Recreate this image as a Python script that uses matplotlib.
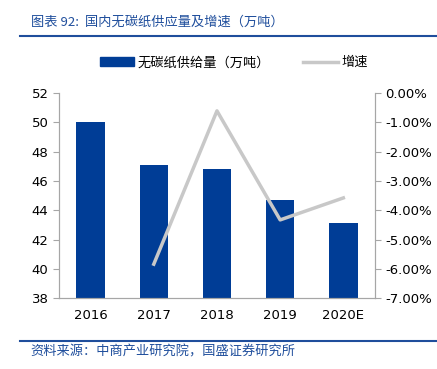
import matplotlib.pyplot as plt
from matplotlib.lines import Line2D
from matplotlib.patches import Patch

plt.rcParams["font.family"] = ["Noto Sans CJK SC", "DejaVu Sans"]

years = ["2016", "2017", "2018", "2019", "2020E"]
supply = [50.0, 47.1, 46.8, 44.7, 43.1]
growth_years = ["2017", "2018", "2019", "2020E"]
growth = [-5.84, -0.61, -4.33, -3.58]

BAR = "#003D96"
LINE = "#C8C8C8"
TITLE = "#1F4E9C"
AXIS = "#A6A6A6"

fig = plt.figure(figsize=(4.37, 3.69), dpi=100)
ax = fig.add_axes([0.135, 0.192, 0.723, 0.556])
x = list(range(len(years)))
ax.bar(x, supply, width=0.45, color=BAR, zorder=2)
ax.set_ylim(38, 52)
ax.set_yticks(range(38, 53, 2))
ax.set_xlim(-0.5, len(years) - 0.5)
ax.set_xticks(x)
ax.set_xticklabels(years)

ax2 = ax.twinx()
gx = [years.index(y) for y in growth_years]
ax2.plot(gx, growth, color=LINE, linewidth=2.5, zorder=3)
ax2.set_ylim(-7, 0)
ax2.set_yticks(range(-7, 1))
ax2.set_yticklabels([f"{v:.2f}%" for v in range(-7, 1)])

for a in (ax, ax2):
    a.spines["top"].set_visible(False)
    for s in ("left", "right", "bottom"):
        a.spines[s].set_color(AXIS)
        a.spines[s].set_linewidth(0.8)
    a.tick_params(axis="y", colors=AXIS, labelcolor="black", labelsize=9.5, length=4, width=0.8)
    for lab in a.get_xticklabels() + a.get_yticklabels():
        lab.set_fontfamily("DejaVu Sans")
ax.tick_params(axis="x", length=0, labelsize=9.5, pad=8)

fig.text(0.07, 0.94, "图表 92:  国内无碳纸供应量及增速（万吨）", color=TITLE,
         fontsize=9.5, style="italic", va="center")
fig.add_artist(Line2D([0.045, 1.0], [0.903, 0.903], color=TITLE, linewidth=1.5))
fig.add_artist(Line2D([0.045, 1.0], [0.077, 0.077], color=TITLE, linewidth=1.5))
fig.text(0.07, 0.045, "资料来源：中商产业研究院，国盛证券研究所", color=TITLE,
         fontsize=9.5, style="italic", va="center")

handles = [Patch(color=BAR), Line2D([], [], color=LINE, linewidth=2.5)]
fig.legend(handles, ["无碳纸供给量（万吨）", "增速"], loc="center", ncol=2,
           bbox_to_anchor=(0.535, 0.83), frameon=False, fontsize=9.5,
           handlelength=2.6, columnspacing=2.5, handletextpad=0.3)

fig.savefig("out.png", dpi=100)
